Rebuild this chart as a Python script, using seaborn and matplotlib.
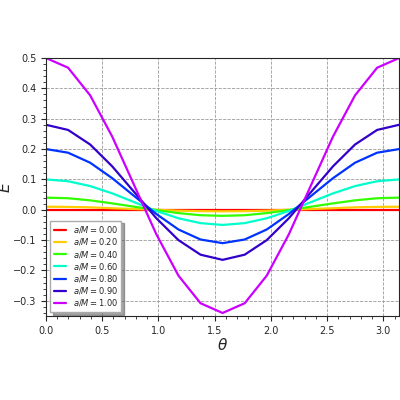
import numpy as np
import matplotlib
matplotlib.use("Agg")
import matplotlib.pyplot as plt
import seaborn as sns

sns.set_style("ticks")

# theta samples 0..pi in steps of pi/16 (first half, mirrored)
theta = np.linspace(0, np.pi, 17)
ratios = ["0.00", "0.20", "0.40", "0.60", "0.80", "0.90", "1.00"]
half = {
    "0.00": [0, 0, 0, 0, 0, 0, 0, 0, 0],
    "0.20": [0.01, 0.0095, 0.008, 0.005, 0.0025, 0.0, -0.003, -0.0045, -0.005],
    "0.40": [0.04, 0.038, 0.031, 0.021, 0.01, -0.001, -0.011, -0.018, -0.02],
    "0.60": [0.1, 0.094, 0.078, 0.054, 0.025, -0.004, -0.028, -0.044, -0.05],
    "0.80": [0.2, 0.188, 0.155, 0.104, 0.045, -0.014, -0.065, -0.098, -0.11],
    "0.90": [0.28, 0.263, 0.215, 0.143, 0.058, -0.028, -0.100, -0.148, -0.165],
    "1.00": [0.5, 0.468, 0.377, 0.241, 0.08, -0.081, -0.217, -0.308, -0.34],
}
colors = ["#ff0000", "#ffcc00", "#33ff00", "#00ffcc", "#0033ff", "#3300cc", "#cc00ff"]

fig = plt.figure(figsize=(4, 4), dpi=100)
ax = fig.add_axes([0.115, 0.21, 0.883, 0.645])
for r, c in zip(ratios, colors):
    vals = half[r] + half[r][-2::-1]
    sns.lineplot(x=theta, y=vals, color=c, lw=1.6, ax=ax, label=r"$a/M=%s$" % r)

ax.set_xlim(0, np.pi)
ax.set_ylim(-0.35, 0.5)
ax.set_xticks(np.arange(0, 3.01, 0.5))
ax.set_yticks(np.arange(-0.3, 0.51, 0.1))
ax.set_xticks(np.arange(0, 3.15, 0.1), minor=True)
ax.set_yticks(np.arange(-0.34, 0.5, 0.02), minor=True)
ax.tick_params(labelsize=7, direction="out")
ax.grid(True, which="major", color="#999999", ls="--", lw=0.6)
ax.set_xlabel(r"$\theta$", fontsize=11, labelpad=1)
ax.set_ylabel(r"$E$", fontsize=11, labelpad=0)
leg = ax.legend(loc="lower left", fontsize=6, shadow=True, fancybox=False,
                handlelength=1.5, borderpad=0.4, labelspacing=0.15,
                framealpha=1, edgecolor="#aaaaaa")
fig.savefig("out.png", dpi=100)
